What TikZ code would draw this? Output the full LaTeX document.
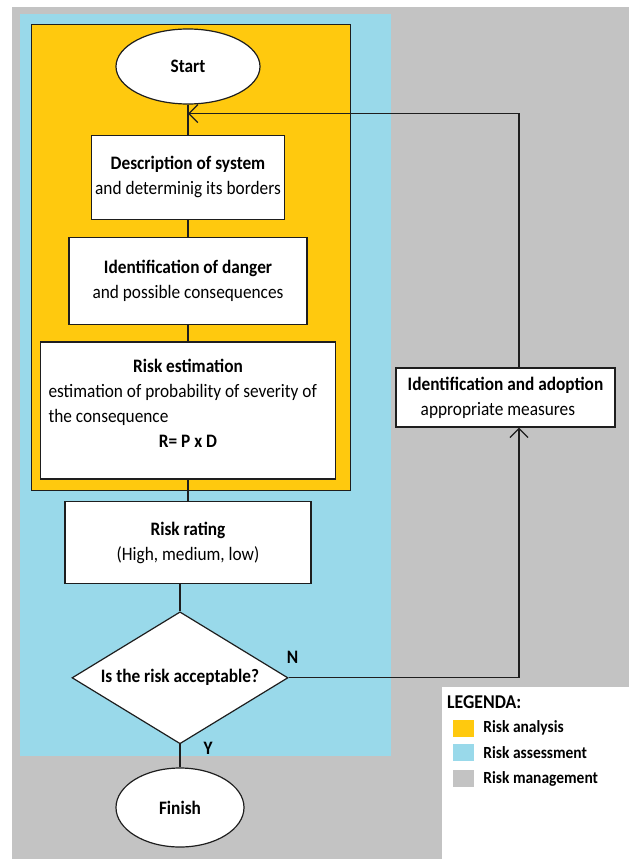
\documentclass[tikz,border=0pt]{standalone}
\usepackage{fontspec}
\setmainfont{Carlito}[FakeStretch=0.91]
\usepackage{tikz}
\usetikzlibrary{positioning,arrows.meta,shapes.geometric}
\definecolor{rgold}{HTML}{FFC90E}
\definecolor{rsky}{HTML}{99D9EA}
\definecolor{rgry}{HTML}{C3C3C3}
\definecolor{rink}{HTML}{1E1E1E}
\newcommand{\txt}{\fontsize{19}{25}\selectfont}
\newcommand{\keytxt}{\fontsize{17}{20}\selectfont}
\tikzset{
  box/.style   ={rectangle, draw=rink, line width=1.4pt, fill=white,
                 inner sep=0pt, align=flush center, font=\txt},
  term/.style  ={ellipse, draw=rink, line width=1.2pt, fill=white,
                 inner sep=0pt, font=\txt\bfseries},
  ask/.style   ={diamond, aspect=1.64, draw=rink, line width=1.2pt, fill=white,
                 inner sep=0pt, font=\txt\bfseries},
  link/.style  ={draw=rink, line width=1.2pt},
  flow/.style  ={link, -{Straight Barb[length=9pt,width=18pt]}},
  yn/.style    ={font=\txt\bfseries, inner sep=0pt},
  swatch/.style={rectangle, minimum width=21pt, minimum height=17pt, inner sep=0pt},
  key/.style   ={font=\keytxt\bfseries, inner sep=0pt, anchor=west},
}

\begin{document}
\begin{tikzpicture}[x=1pt,y=-1pt]
  \useasboundingbox (0,0) rectangle (629,859);
  \fill[white] (0,0) rectangle (629,859);
  % areas
  \fill[rgry] (12,7) rectangle (629,859);
  \fill[rsky] (20,14) rectangle (391,756);
  \filldraw[fill=rgold, draw=rink, line width=0.8pt] (31,24) rectangle (350,490);
  \fill[white] (442,687) rectangle (629,859);

  % flow
  \node[term, minimum width=144pt, minimum height=75pt] (start) at (188,66.5) {Start};
  \node[box, below=30pt of start, minimum width=193pt, minimum height=84pt] (desc)
    {\textbf{Description of system}\\and determinig its borders};
  \node[box, below=17pt of desc, minimum width=238pt, minimum height=87pt] (ident)
    {\textbf{Identification of danger}\\and possible consequences};
  \node[box, below=16pt of ident, minimum width=295pt, minimum height=137pt, text width=279pt] (est)
    {\textbf{Risk estimation}\\
     \makebox[\hsize][l]{estimation of probability of severity of}\\
     \makebox[\hsize][l]{the consequence}\\
     \textbf{R= P x D}\\[-11pt]\mbox{}};
  \node[box, below=21pt of est, minimum width=246pt, minimum height=82pt] (rate)
    {\textbf{Risk rating}\\(High, medium, low)};
  \node[ask, below=27pt of rate, xshift=-8pt, minimum width=216pt, minimum height=132pt] (dia)
    {Is the risk acceptable?};
  \node[term, below=23pt of dia, minimum width=128pt, minimum height=79pt] (fin) {Finish};
  \node[box, align=left, minimum width=219pt, minimum height=59pt] (adopt) at (505.5,397.5)
    {\textbf{Identification and adoption}\\\hspace*{13pt}appropriate measures};
  \coordinate (ret) at ([yshift=-9pt]start.south);

  \node[yn] (no) at ([xshift=4pt,yshift=20pt]dia.east) {N};
  \node[yn] (yes) at ([xshift=28pt,yshift=-4pt]dia.south) {Y};

  \draw[link] (start.south) -- (desc.north);
  \draw[link] (desc) -- (ident);
  \draw[link] (ident) -- (est);
  \draw[link] (est) -- (rate);
  \draw[link] (dia.north |- rate.south) -- (dia.north);
  \draw[link] (dia) -- (fin);
  \draw[flow] (dia.east) -| ([xshift=13.5pt]adopt.south);
  \draw[flow] ([xshift=13.5pt]adopt.north) |- (ret);

  % legend
  \node[key, font=\fontsize{19.5}{22}\selectfont\bfseries] (leg) at (447,702) {LEGENDA:};
  \node[swatch, fill=rgold] (s1) at (463.5,728) {};
  \node[swatch, fill=rsky, below=7pt of s1] (s2) {};
  \node[swatch, fill=rgry, below=9pt of s2] (s3) {};
  \node[key, right=9pt of s1] (k1) {Risk analysis};
  \node[key, right=9pt of s2] (k2) {Risk assessment};
  \node[key, right=9pt of s3] (k3) {Risk management};
\end{tikzpicture}
\end{document}
